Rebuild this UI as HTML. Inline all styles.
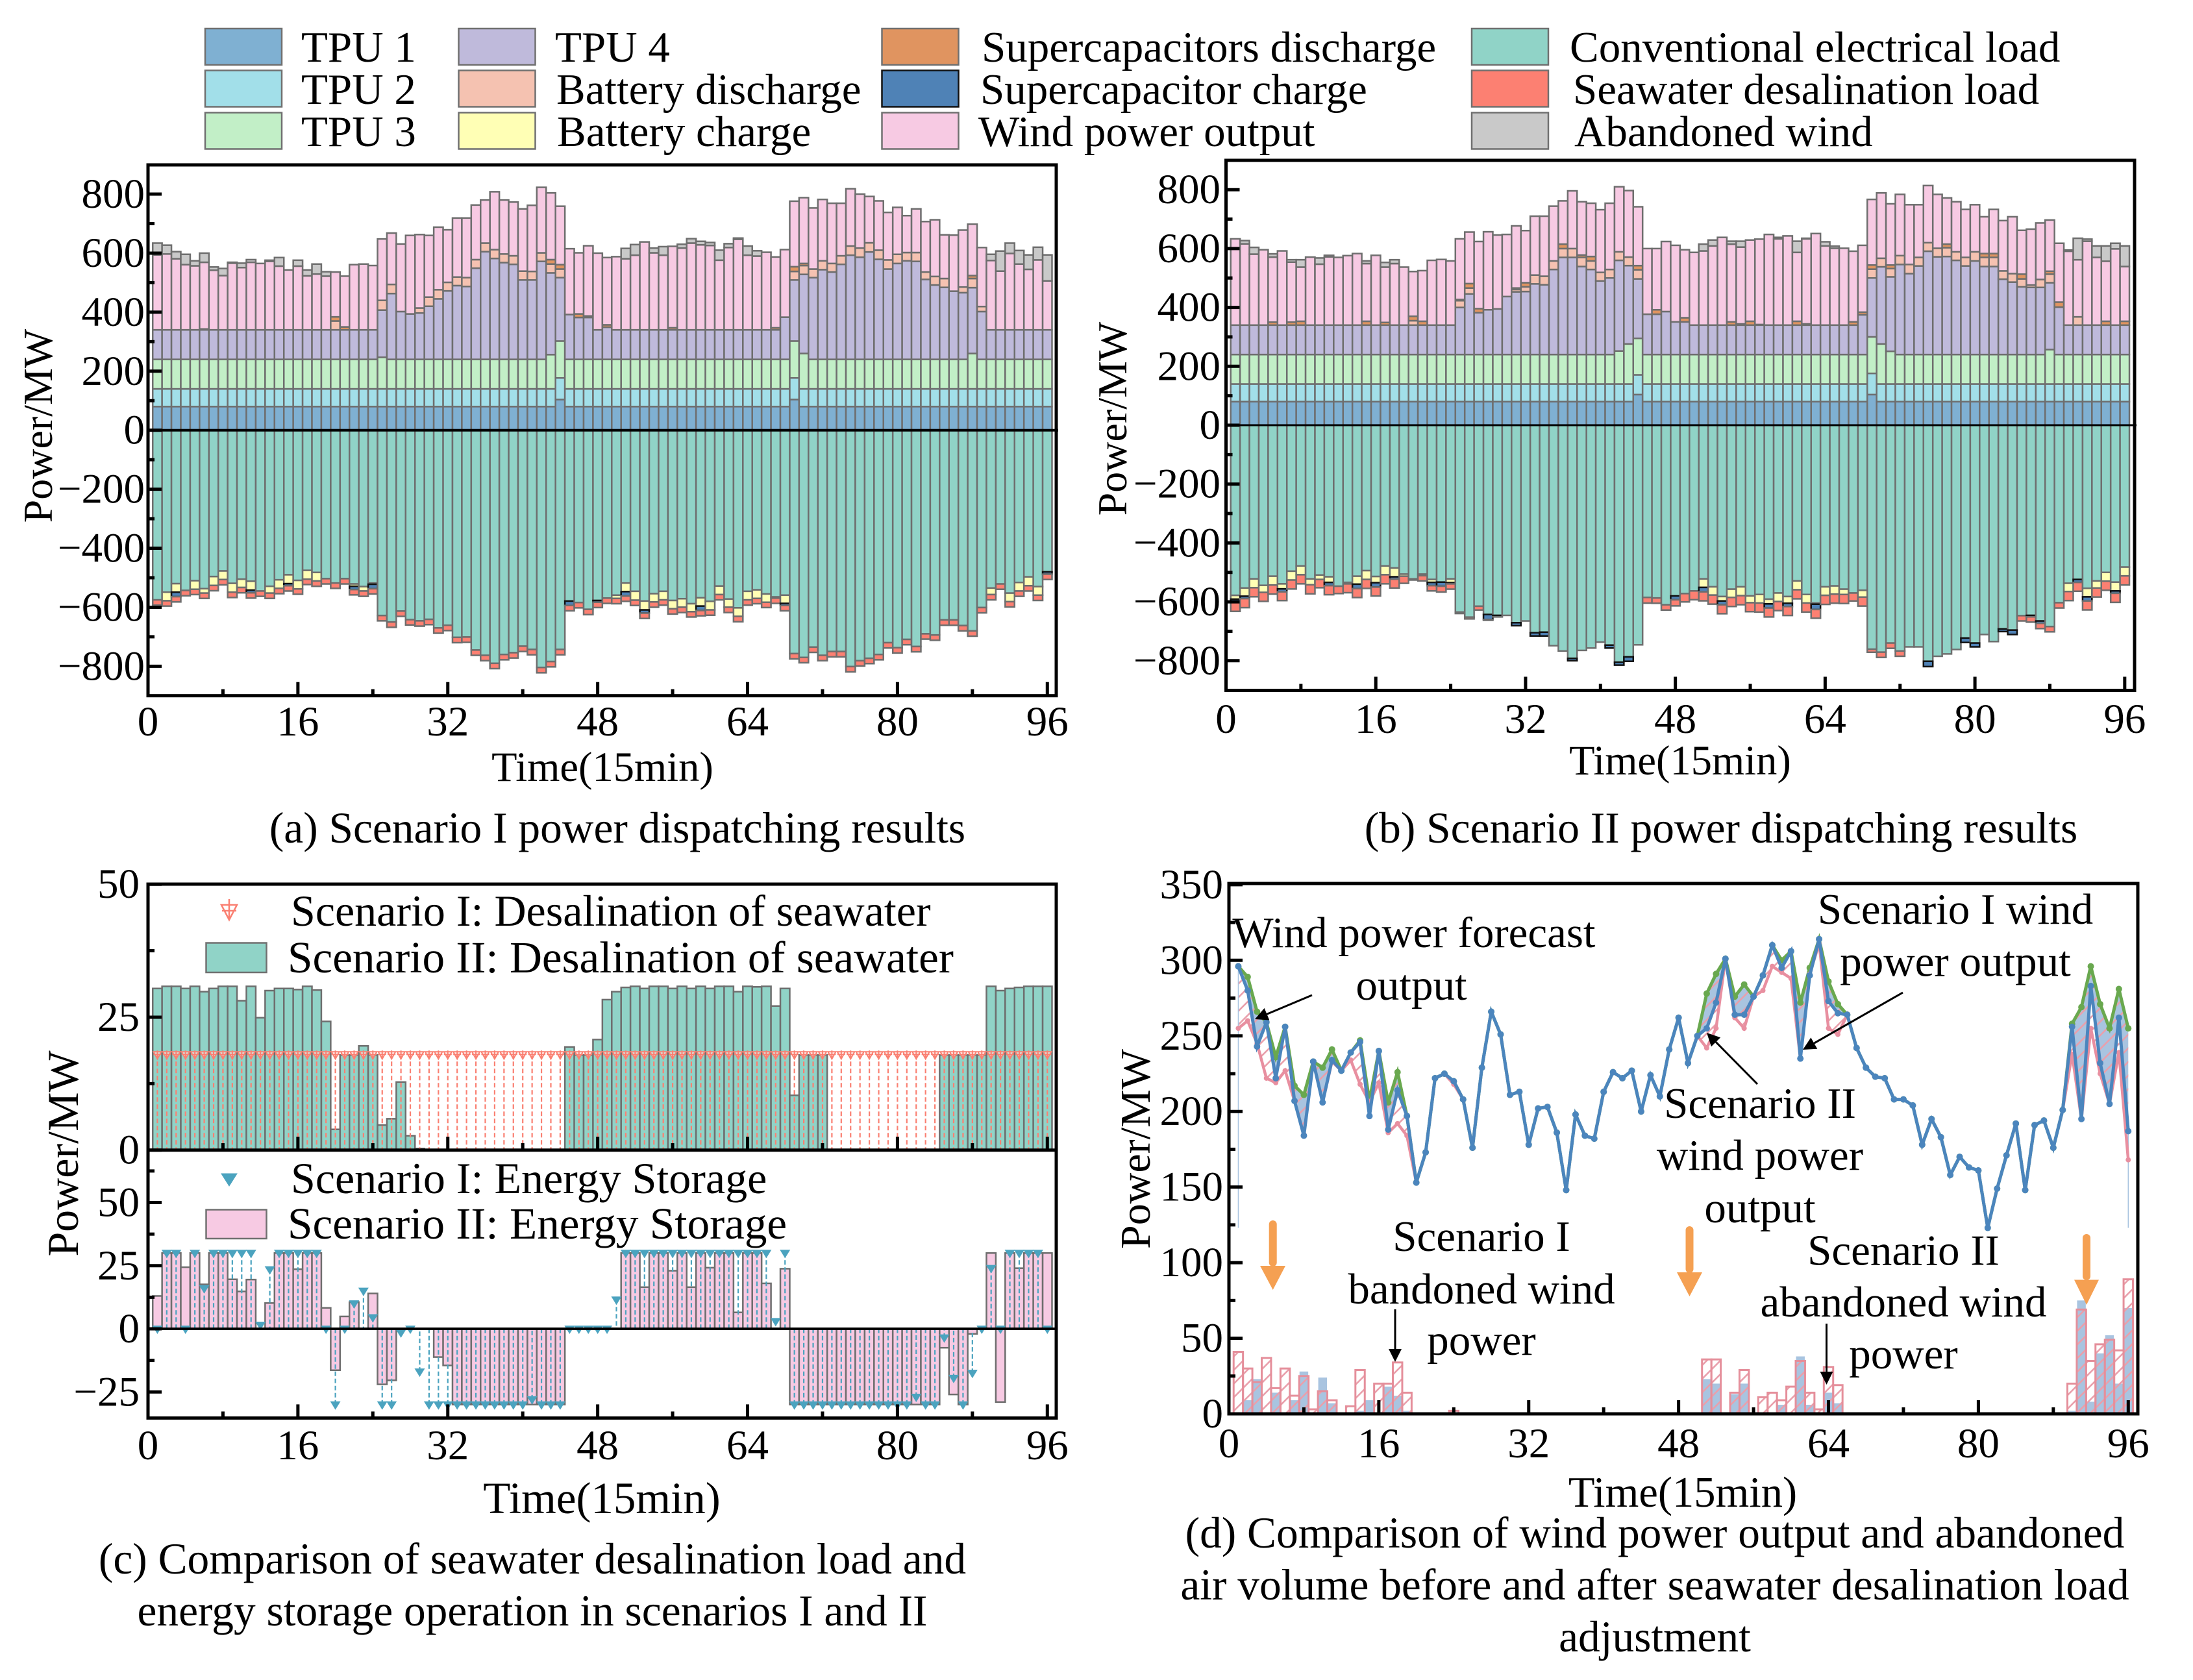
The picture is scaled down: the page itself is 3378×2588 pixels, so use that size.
<!DOCTYPE html>
<html lang="en">
<head>
<meta charset="utf-8">
<title>Scenario dispatching results</title>
<style>
html,body{margin:0;padding:0;background:#fff;}
svg{display:block;}
text{font-family:"Liberation Serif",serif;fill:#000;}
.lg{font-size:67px;}
.ann{font-size:67px;text-anchor:middle;}
.cap{font-size:67.4px;text-anchor:middle;}
.sw{stroke:#707070;stroke-width:2.5;}
</style>
</head>
<body>
<svg id="fig" xmlns="http://www.w3.org/2000/svg" width="3378" height="2588" viewBox="0 0 3378 2588">
<defs>
<pattern id="hatch" patternUnits="userSpaceOnUse" width="21" height="21">
<path d="M-3,3 L3,-3 M0,21 L21,0 M18,24 L24,18" stroke="#e9a0ac" stroke-width="2.6" fill="none"/>
</pattern>
</defs>
<rect width="3378" height="2588" fill="#fff"/>

<g id="legend">
<rect class="sw" x="316" y="44" width="118" height="56" fill="#7fb0d2"/>
<text class="lg" x="464" y="95">TPU 1</text>
<rect class="sw" x="316" y="108.500" width="118" height="56" fill="#a2dfe9"/>
<text class="lg" x="464" y="160">TPU 2</text>
<rect class="sw" x="316" y="173.500" width="118" height="56" fill="#c2efc7"/>
<text class="lg" x="464" y="225">TPU 3</text>
<rect class="sw" x="706.500" y="44" width="118" height="56" fill="#bfbadb"/>
<text class="lg" x="855" y="95">TPU 4</text>
<rect class="sw" x="706.500" y="108.500" width="118" height="56" fill="#f5c2b1"/>
<text class="lg" x="857" y="160">Battery discharge</text>
<rect class="sw" x="706.500" y="173.500" width="118" height="56" fill="#ffffb5"/>
<text class="lg" x="858" y="225">Battery charge</text>
<rect class="sw" x="1358.500" y="44" width="118" height="56" fill="#e09460"/>
<text class="lg" x="1512" y="95">Supercapacitors discharge</text>
<rect x="1358.500" y="108.500" width="118" height="56" fill="#4f82b6" stroke="#111" stroke-width="2.5"/>
<text class="lg" x="1510" y="160">Supercapacitor charge</text>
<rect class="sw" x="1358.500" y="173.500" width="118" height="56" fill="#f7cae3"/>
<text class="lg" x="1507" y="225">Wind power output</text>
<rect class="sw" x="2267" y="44" width="118" height="56" fill="#90d3c7"/>
<text class="lg" x="2418" y="95">Conventional electrical load</text>
<rect class="sw" x="2267" y="108.500" width="118" height="56" fill="#fc8072"/>
<text class="lg" x="2423" y="160">Seawater desalination load</text>
<rect class="sw" x="2267" y="173.500" width="118" height="56" fill="#c9c9c9"/>
<text class="lg" x="2425" y="225">Abandoned wind</text>
</g>

<g id="layerA"></g>
<g id="layerB"></g>
<g id="layerC"></g>
<g id="layerD"></g>

<g>
<text x="448" y="1426" font-size="68">Scenario I: Desalination of seawater</text>
<rect class="sw" x="317.500" y="1452.500" width="93" height="45.500" fill="#90d3c7"/>
<text x="443" y="1498" font-size="69.200">Scenario II: Desalination of seawater</text>
<text x="448" y="1838" font-size="68">Scenario I: Energy Storage</text>
<rect class="sw" x="317.500" y="1863.500" width="93" height="44.500" fill="#f7cae3"/>
<text x="443" y="1908" font-size="69.200">Scenario II: Energy Storage</text>
<path d="M341,1394 L365,1394 L353,1417 Z M353,1385 L353,1417 M342,1403 L364,1403" fill="none" stroke="#fa8072" stroke-width="2.5"/>
<path d="M341,1808 L365,1808 L353,1827 Z" fill="#4ba3bf" stroke="#4ba3bf" stroke-width="1"/>
</g>

<g>
<text class="ann" x="2178" y="1459">Wind power forecast</text>
<text class="ann" x="2174" y="1540">output</text>
<text class="ann" x="3012" y="1423">Scenario I wind</text>
<text class="ann" x="3012" y="1503.500">power output</text>
<text class="ann" x="2711" y="1722">Scenario II</text>
<text class="ann" x="2711" y="1802">wind power</text>
<text class="ann" x="2711" y="1883">output</text>
<text class="ann" x="2282" y="1927">Scenario I</text>
<text class="ann" x="2282" y="2008">bandoned wind</text>
<text class="ann" x="2282" y="2087">power</text>
<text class="ann" x="2932" y="1948.500">Scenario II</text>
<text class="ann" x="2932" y="2028">abandoned wind</text>
<text class="ann" x="2932" y="2108">power</text>
<path d="M1960.700,1886 L1960.700,1945" stroke="#f5a052" stroke-width="12" stroke-linecap="round" fill="none"/>
<polygon points="1941,1950 1980,1950 1960.700,1987" fill="#f5a052"/>
<path d="M2602.500,1895 L2602.500,1955" stroke="#f5a052" stroke-width="12" stroke-linecap="round" fill="none"/>
<polygon points="2583,1960 2622,1960 2602.500,1997" fill="#f5a052"/>
<path d="M3214,1907 L3214,1966" stroke="#f5a052" stroke-width="12" stroke-linecap="round" fill="none"/>
<polygon points="3195,1971.500 3233,1971.500 3214,2010" fill="#f5a052"/>
</g>

<g>
<text x="80" y="656" font-size="64" text-anchor="middle" transform="rotate(-90 80 656)">Power/MW</text>
<text x="1735" y="645" font-size="64" text-anchor="middle" transform="rotate(-90 1735 645)">Power/MW</text>
<text x="120" y="1777" font-size="68" text-anchor="middle" transform="rotate(-90 120 1777)">Power/MW</text>
<text x="1771" y="1770" font-size="66" text-anchor="middle" transform="rotate(-90 1771 1770)">Power/MW</text>
<text x="928" y="1203" font-size="64.500" text-anchor="middle">Time(15min)</text>
<text x="2588" y="1193" font-size="64.500" text-anchor="middle">Time(15min)</text>
<text x="927" y="2331" font-size="69" text-anchor="middle">Time(15min)</text>
<text x="2592" y="2321" font-size="66.500" text-anchor="middle">Time(15min)</text>
<text class="cap" x="951" y="1298">(a) Scenario I power dispatching results</text>
<text class="cap" x="2651" y="1298">(b) Scenario II power dispatching results</text>
<text class="cap" x="820" y="2424">(c) Comparison of seawater desalination load and</text>
<text class="cap" x="820" y="2504">energy storage operation in scenarios I and II</text>
<text class="cap" x="2549" y="2384">(d) Comparison of wind power output and abandoned</text>
<text class="cap" x="2549" y="2464">air volume before and after seawater desalination load</text>
<text class="cap" x="2549" y="2544">adjustment</text>
</g>
</svg>

<script>
// ---------- shared tick data ----------
const xMajorTicks = [0,16,32,48,64,80,96];
const xMinorTicks = [8,24,40,56,72,88];
const powerMajorTicks = [800,600,400,200,0,-200,-400,-600,-800];
const powerMinorTicks = [700,500,300,100,-100,-300,-500,-700];
const desalMajorTicks = [50,25,0];
const desalMinorTicks = [37.5,12.5];
const storageMajorTicks = [50,25,0,-25];
const storageMinorTicks = [62.5,37.5,12.5,-12.5];
const windMajorTicks = [350,300,250,200,150,100,50,0];
const windMinorTicks = [325,275,225,175,125,75,25];

// ---------- panel (a) Scenario I, MW ----------
const aTpu1 = [80,80,80,80,80,80,80,80,80,80,80,80,80,80,80,80,80,80,80,80,80,80,80,80,
80,80,80,80,80,80,80,80,80,80,80,80,80,80,80,80,80,80,80,104,
80,80,80,80,80,80,80,80,80,80,80,80,80,80,80,80,80,80,80,80,80,80,80,80,
104,80,80,80,80,80,80,80,80,80,80,80,80,80,80,80,80,80,80,80,80,80,80,80,80,80,80,80];
const aTpu2 = [60,60,60,60,60,60,60,60,60,60,60,60,60,60,60,60,60,60,60,60,60,60,60,60,
60,60,60,60,60,60,60,60,60,60,60,60,60,60,60,60,60,60,60,73,
60,60,60,60,60,60,60,60,60,60,60,60,60,60,60,60,60,60,60,60,60,60,60,60,
73,60,60,60,60,60,60,60,60,60,60,60,60,60,60,60,60,60,60,60,60,60,60,60,60,60,60,60];
const aTpu3 = [100,100,100,100,100,100,100,100,100,100,100,100,100,100,100,100,100,100,100,100,100,100,100,100,
107,100,100,100,100,100,100,100,100,100,100,100,100,100,100,100,100,100,116,125,
100,100,100,100,100,100,100,100,100,100,100,100,100,100,100,100,100,100,100,100,100,100,100,100,
125,120,100,100,100,100,100,100,100,100,100,100,100,100,100,100,100,100,100,120,100,100,100,100,100,100,100,100];
const aTpu4 = [100,100,100,100,100,100,100,100,100,100,100,100,100,100,100,100,100,100,100,100,100,100,100,100,
160,223,162,154,157,180,205,232,250,247,309,365,342,328,322,269,269,332,277,215,
152,142,142,100,109,100,100,100,100,100,100,100,100,100,100,100,100,100,100,100,100,100,100,143,
207,268,277,304,296,322,353,346,364,339,306,325,334,332,271,252,244,231,226,223,162,100,100,100,100,100,100,100];
const aBattDis = [0,0,0,0,0,0,0,0,0,0,0,0,0,0,0,0,0,0,0,30,0,0,0,0,
33,31,0,0,17,31,31,29,29,30,29,29,30,29,29,30,29,29,30,29,
0,0,0,0,0,0,0,0,0,0,0,0,0,0,0,0,0,0,0,0,0,0,0,0,
29,30,29,30,29,29,31,31,31,31,31,31,28,30,25,29,30,0,19,31,17,0,0,0,0,0,0,0];
const aScDis = [0,0,0,0,0,3,0,0,0,0,0,0,0,0,0,0,0,0,0,14,10,0,0,0,
0,0,0,0,0,0,0,0,0,0,0,0,0,0,0,0,0,0,15,15,
0,12,5,0,8,0,0,0,0,0,0,7,0,0,0,0,0,0,0,0,0,0,7,0,
16,7,0,0,0,0,0,0,0,0,0,0,0,0,0,0,0,0,0,10,0,0,0,0,0,0,0,0];
const aWind = [254,257,241,221,217,226,202,184,226,211,229,225,232,216,203,216,183,189,182,152,172,221,223,218,
208,174,229,266,249,209,212,178,200,202,185,146,196,183,182,211,224,222,226,198,
223,207,238,260,228,248,241,253,298,261,253,276,277,294,288,286,236,279,307,253,250,263,240,229,
222,223,207,208,204,178,194,183,157,167,161,159,125,148,171,192,148,190,193,174,200,235,199,259,223,205,237,166];
const aAband = [40,30,24,35,17,31,11,24,3,15,9,0,4,29,0,20,20,34,15,0,0,0,0,0,
0,0,0,0,0,0,0,0,0,0,0,0,0,0,0,0,0,0,0,0,
0,0,0,0,0,0,35,36,0,16,29,0,13,15,12,10,34,13,4,31,18,0,0,0,
0,0,0,0,0,0,0,0,0,0,0,0,0,0,0,0,0,0,0,0,0,21,68,35,46,49,43,88];
const aLoad = [575,549,520,543,510,537,496,477,519,505,512,545,529,507,490,509,475,482,503,518,503,521,530,518,
628,650,613,642,646,641,670,661,702,701,745,763,790,760,754,732,743,804,784,743,
579,584,607,577,569,559,518,546,579,554,546,577,571,588,568,580,528,572,602,546,541,555,565,559,
757,770,735,763,750,750,801,781,773,760,720,737,709,733,690,694,643,643,662,680,601,535,521,552,516,497,530,480];
const aBattCh = [0,29,29,0,29,15,30,29,30,28,30,0,23,29,30,29,30,29,0,0,0,8,15,4,
0,0,0,0,0,0,0,0,0,0,0,0,0,0,0,0,0,0,0,0,
0,0,0,0,0,11,29,30,30,28,29,28,29,27,28,29,29,28,29,29,29,28,4,28,
0,0,0,0,0,0,0,0,0,0,0,0,0,0,0,0,0,0,0,0,0,22,0,29,29,30,29,0];
const aScCh = [0,0,15,0,0,0,0,0,0,0,9,0,0,0,7,0,0,0,0,0,0,11,0,15,
0,0,0,0,0,0,0,0,0,0,0,0,0,0,0,0,0,0,0,0,
15,0,0,6,0,0,15,0,11,0,0,0,0,0,15,0,0,0,0,0,0,0,0,7,
0,0,0,0,0,0,0,0,0,0,0,0,0,0,0,0,0,0,0,0,0,0,0,0,0,0,0,8];

// ---------- panel (b) Scenario II, MW ----------
const bTpu1 = [80,80,80,80,80,80,80,80,80,80,80,80,80,80,80,80,80,80,80,80,80,80,80,80,
80,80,80,80,80,80,80,80,80,80,80,80,80,80,80,80,80,80,80,104,
80,80,80,80,80,80,80,80,80,80,80,80,80,80,80,80,80,80,80,80,80,80,80,80,
104,80,80,80,80,80,80,80,80,80,80,80,80,80,80,80,80,80,80,80,80,80,80,80,80,80,80,80];
const bTpu2 = [60,60,60,60,60,60,60,60,60,60,60,60,60,60,60,60,60,60,60,60,60,60,60,60,
60,60,60,60,60,60,60,60,60,60,60,60,60,60,60,60,60,60,60,67,
60,60,60,60,60,60,60,60,60,60,60,60,60,60,60,60,60,60,60,60,60,60,60,60,
72,60,60,60,60,60,60,60,60,60,60,60,60,60,60,60,60,60,60,60,60,60,60,60,60,60,60,60];
const bTpu3 = [100,100,100,100,100,100,100,100,100,100,100,100,100,100,100,100,100,100,100,100,100,100,100,100,
100,100,100,100,100,100,100,100,100,100,100,100,100,100,100,100,100,112,136,124,
100,100,100,100,100,100,100,100,100,100,100,100,100,100,100,100,100,100,100,100,100,100,100,100,
124,136,111,100,100,100,100,100,100,100,100,100,100,100,100,100,100,100,100,117,100,100,100,100,100,100,100,100];
const bTpu4 = [100,100,100,100,100,100,100,100,100,100,100,100,100,100,100,100,100,100,100,100,100,100,100,100,
160,206,142,152,155,197,213,214,240,237,289,330,330,299,289,250,260,308,266,202,
137,137,146,111,111,100,100,100,100,100,100,100,100,100,100,100,100,100,100,100,100,100,100,135,
200,262,253,306,275,301,351,332,333,320,301,318,299,299,256,246,230,228,228,227,161,100,100,100,100,100,100,100];
const bBattDis = [0,0,0,0,0,0,0,0,0,0,0,0,0,0,0,0,0,0,0,15,0,0,0,0,
23,20,0,0,0,0,8,16,30,29,29,30,30,31,29,29,29,29,29,31,
0,0,0,0,0,0,0,0,0,0,0,0,0,0,0,0,0,0,0,0,0,0,0,0,
30,29,28,30,31,29,29,29,30,29,29,31,31,31,28,29,27,8,27,29,0,0,28,0,0,0,0,0];
const bScDis = [0,0,0,0,10,0,10,13,0,0,0,0,0,0,13,0,9,0,0,15,13,0,0,0,
4,15,14,0,0,0,5,14,0,0,0,15,0,8,15,0,0,0,0,14,
0,15,0,0,14,0,0,0,0,11,4,13,2,0,0,0,13,4,0,0,0,0,11,9,
14,0,12,0,0,0,0,0,12,0,0,0,13,13,0,0,16,0,0,10,17,0,0,0,0,13,0,13];
const bWind = [293,276,241,256,221,252,204,184,231,207,232,230,236,243,196,237,188,209,197,152,172,220,223,218,
206,175,228,265,251,211,211,177,200,204,186,147,196,181,181,213,225,221,226,200,
223,208,238,260,231,247,252,269,298,264,261,276,290,308,293,303,234,289,311,269,261,261,240,227,
223,222,208,208,203,179,194,183,157,170,163,160,125,150,171,193,149,190,192,174,200,251,194,285,230,204,259,186];
const bAband = [0,11,23,0,11,0,8,25,0,21,5,0,0,0,9,0,16,13,0,0,0,0,0,0,
0,0,0,0,0,0,0,0,0,0,0,0,0,0,0,0,0,0,0,0,
0,0,0,0,0,0,23,20,0,10,20,0,0,0,5,0,38,2,0,14,7,0,0,0,
0,0,0,0,0,0,0,0,0,0,0,0,0,0,0,0,0,0,0,0,0,4,73,7,39,52,19,70];
const bLoad = [578,553,522,544,513,539,496,478,522,509,515,547,534,513,494,514,478,485,506,522,506,524,533,522,
635,652,615,643,646,646,671,665,705,703,749,767,792,765,757,737,747,805,787,746,
585,587,610,580,572,563,522,549,582,557,549,580,575,591,570,582,529,575,604,549,546,557,570,561,
761,771,740,767,753,753,802,785,777,762,723,740,711,735,692,696,647,646,665,684,603,537,524,554,529,500,533,482];
const bBattCh = [13,28,30,24,30,17,30,30,20,15,19,0,5,27,30,21,30,30,7,0,5,10,0,13,
0,0,0,0,0,0,0,0,0,0,0,0,0,0,0,0,0,0,0,0,
0,0,0,0,0,0,29,28,15,28,30,23,29,16,29,23,30,29,4,29,28,18,0,23,
0,0,0,0,0,0,0,0,0,0,0,0,0,0,0,0,0,0,0,0,0,28,0,29,24,30,30,30];
const bScCh = [11,8,0,0,0,10,0,0,0,0,11,0,0,15,0,15,0,8,0,0,0,11,14,4,
0,0,0,17,5,0,10,0,11,13,0,0,8,0,0,0,10,10,15,0,
0,0,0,13,0,0,15,0,13,0,0,0,0,14,0,11,0,0,18,0,0,0,0,0,
0,0,0,0,0,0,18,0,0,0,15,13,0,0,9,15,0,5,8,0,0,0,10,14,0,0,8,0];

// ---------- panel (c), MW ----------
const desalScenario1 = [18,18,18,18,18,18,18,18,18,18,18,18,18,18,18,18,18,18,18,18,18,18,18,18,
18,18,18,18,18,18,18,18,18,18,18,18,18,18,18,18,18,18,18,18,
18,18,18,18,18,18,18,18,18,18,18,18,18,18,18,18,18,18,18,18,18,18,18,18,
18,18,18,18,18,18,18,18,18,18,18,18,18,18,18,18,18,18,18,18,18,18,18,18,18,18,18,18];
const desalScenario2 = [30.4,30.8,30.8,30.4,30.8,29.8,30.4,30.8,30.8,28.1,30.8,24.9,30,30.4,30.4,30.2,30.8,30.1,24.2,3.9,17.9,17.9,19.6,17.9,
4.7,5.9,12.8,2.7,0.3,0,0,0,0,0,0,0,0,0,0,0,0,0,0,0,
19.4,17.9,17.9,20.8,28.3,29.8,30.6,30.8,30.4,30.8,30.8,30.4,30.8,30.4,30.8,30.4,30.8,30.8,29.8,30.8,30.7,30.8,27.1,30.4,
10.3,17.9,17.9,17.9,0,0,0,0,0,0,0,0,0,0,0,0,17.9,17.9,17.9,17.9,17.9,30.8,30,30.4,30.6,30.8,30.8,30.8];
const storageScenario1 = [0,30,30,0,30,16,30,30,30,30,30,1.5,23.5,30,30,30,30,30,0,-30,0,10,15,4.5,
-30,-30,-1.5,0,-17,-30,-30,-30,-30,-30,-30,-30,-30,-30,-30,-30,-28,-30,-30,-30,
0,0,0,0,0,11.5,30,30,30,30,30,30,30,30,30,30,30,30,30,30,30,30,3,30,
-30,-30,-30,-30,-30,-30,-30,-30,-30,-30,-30,-30,-30,-27,-30,-30,-3.5,-19.5,-30,-17.5,0,24,0,30,30,30,30,0];
const storageScenario2 = [13,30,30,24.4,30,17.6,30,30,19.6,14.8,19.5,0,10.2,30,30,23.6,30,30,8.3,-16.4,4.9,10.6,0,14,
-22,-20.4,0,0,0,0,-11.2,-14.5,-30,-30,-30,-30,-30,-30,-30,-30,-30,-30,-30,-30,
0,0,0,0,0,0,30,30,16.5,30,30,23,30,16.5,30,24.2,30,30,6.5,30,30,18,0,23.8,
-30,-30,-30,-30,-30,-30,-30,-30,-30,-30,-30,-30,-30,-30,-30,-30,-7.5,-26,-30,-2,0,30,-29,30,24,30,30,30];

// ---------- panel (d), MW ----------
const windForecast = [296,289,266,259,236,256,217,211,233,229,241,227,239,247,207,240,206,226,197,
153,173,222,225,220,208,176,229,266,251,211,213,178,202,203,186,148,198,184,182,213,226,222,227,200,224,210,241,262,232,
250,278,291,301,276,284,276,290,310,300,306,272,295,314,286,271,264,
242,229,223,222,208,208,204,178,195,183,158,170,163,161,123,149,171,192,148,191,194,176,201,
258,269,296,271,255,281,255];
const windScenario1 = [255,260,245,222,219,227,207,185,233,206,233,227,234,218,206,219,186,192,184,
153,173,222,225,218,208,176,229,266,251,211,213,178,202,203,186,148,198,184,182,213,226,222,227,200,224,210,241,262,232,
250,242,255,301,262,255,276,280,296,292,288,235,291,311,255,251,264,
242,229,223,222,208,208,204,178,195,183,158,170,163,161,123,149,171,192,148,191,194,176,201,
238,195,255,225,205,239,168];
const windScenario2 = [296,280,243,259,222,256,207,184,233,206,234,227,239,246,197,240,188,214,197,
153,173,222,225,220,208,176,229,266,251,211,213,178,202,203,186,148,198,184,182,213,226,222,227,200,224,210,241,262,232,
250,255,272,301,264,264,276,290,310,295,306,235,290,314,273,265,264,
242,229,223,222,208,208,204,178,195,183,158,170,163,161,123,149,171,192,148,191,194,176,201,
256,195,283,232,205,262,187];
const abandonedScenario1 = [41,30,21,37,17,30,12,25,3,15,9,0,5,29,0,20,20,34,14,0,0,0,0,2,
0,0,0,0,0,0,0,0,0,0,0,0,0,0,0,0,0,0,0,0,0,0,0,0,0,0,
36,36,0,14,29,0,11,14,9,18,35,14,3,31,19,0,
0,0,0,0,0,0,0,0,0,0,0,0,0,0,0,0,0,0,0,0,0,0,0,
20,69,35,46,49,42,89];
const abandonedScenario2 = [0,9,23,0,14,0,9,28,0,24,7,0,0,2,9,0,18,12,2,0,0,0,0,0,
0,0,0,0,0,0,0,0,0,0,0,0,0,0,0,0,0,0,0,0,0,0,0,0,0,0,
23,20,0,13,20,0,0,0,6,0,38,6,0,14,7,0,
1,0,1,0,0,0,0,0,0,0,0,0,0,0,0,0,0,0,0,0,0,0,0,
2,75,8,40,52,20,70];

const SVGNS = 'http://www.w3.org/2000/svg';
function make(parent, tag, attrs, name) {
  const el = document.createElementNS(SVGNS, tag);
  for (const k in attrs) el.setAttribute(k, attrs[k]);
  
  
  parent.appendChild(el);
  return el;
}
function fmtTick(v) { return v < 0 ? '\u2212' + Math.abs(v) : String(v); }

function drawFrame(g, b, xf) {
  make(g, 'rect', {x:b.left, y:b.top, width:b.right-b.left, height:b.bottom-b.top, fill:'none', stroke:'#000', 'stroke-width':5}, 'plot-frame');
  xMajorTicks.forEach(v => {
    make(g, 'line', {x1:xf(v), x2:xf(v), y1:b.bottom, y2:b.bottom-21, stroke:'#000', 'stroke-width':5}, 'x-major-tick');
    const t = make(g, 'text', {x:xf(v), y:b.xLabelY, 'font-size':65, 'text-anchor':'middle'}, 'x-tick-label');
    t.textContent = v;
  });
  xMinorTicks.forEach(v => {
    make(g, 'line', {x1:xf(v), x2:xf(v), y1:b.bottom, y2:b.bottom-10, stroke:'#000', 'stroke-width':5}, 'x-minor-tick');
  });
}
function drawYTicks(g, left, yf, major, minor, labelX, skipLabel) {
  major.forEach(v => {
    make(g, 'line', {x1:left, x2:left+21, y1:yf(v), y2:yf(v), stroke:'#000', 'stroke-width':5}, 'y-major-tick');
    const t = make(g, 'text', {x:labelX, y:yf(v)+21, 'font-size':65, 'text-anchor':'end'}, 'y-tick-label');
    t.textContent = fmtTick(v);
  });
  minor.forEach(v => {
    make(g, 'line', {x1:left, x2:left+10, y1:yf(v), y2:yf(v), stroke:'#000', 'stroke-width':5}, 'y-minor-tick');
  });
}

const FILL = {tpu1:'#7fb0d2',tpu2:'#a2dfe9',tpu3:'#c2efc7',tpu4:'#bfbadb',battDis:'#f5c2b1',scDis:'#e09460',wind:'#f7cae3',aband:'#c9c9c9',load:'#90d3c7',battCh:'#ffffb5',scCh:'#4f82b6',sea:'#fc8072'};

function drawStack(g, xf, yf, up, down) {
  for (let i = 0; i < 96; i++) {
    const c = i + 1;
    const x = xf(c - 0.5), w = xf(c + 0.5) - x;
    let acc = 0;
    up.forEach(s => {
      const v = s.values[i];
      if (v > 0) {
        const rect = make(g, 'rect', {x:x, y:yf(acc+v), width:w, height:yf(acc)-yf(acc+v), fill:s.fill, stroke:'#6e6e6e', 'stroke-width':2.5}, s.name);
      }
      acc += v;
    });
    acc = 0;
    down.forEach(s => {
      const v = s.values[i];
      if (v > 0) {
        const rect = make(g, 'rect', {x:x, y:yf(-acc), width:w, height:yf(-acc-v)-yf(-acc), fill:s.fill, stroke:s.stroke||'#6e6e6e', 'stroke-width':2.5}, s.name);
      }
      acc += v;
    });
  }
}

// ---- Panel A ----
(function(){
  const g = document.getElementById('layerA');
  const xf = v => 228 + 14.43 * v;
  const yf = v => 662.7 - 0.4546 * v;
  drawStack(g, xf, yf,
    [{values:aTpu1,fill:FILL.tpu1,name:'bar-tpu1'},{values:aTpu2,fill:FILL.tpu2,name:'bar-tpu2'},{values:aTpu3,fill:FILL.tpu3,name:'bar-tpu3'},{values:aTpu4,fill:FILL.tpu4,name:'bar-tpu4'},{values:aBattDis,fill:FILL.battDis,name:'bar-battery-discharge'},{values:aScDis,fill:FILL.scDis,name:'bar-supercap-discharge'},{values:aWind,fill:FILL.wind,name:'bar-wind'},{values:aAband,fill:FILL.aband,name:'bar-abandoned'}],
    [{values:aLoad,fill:FILL.load,name:'bar-load'},{values:aBattCh,fill:FILL.battCh,name:'bar-battery-charge'},{values:aScCh,fill:FILL.scCh,stroke:'#111',name:'bar-supercap-charge'},{values:desalScenario1,fill:FILL.sea,name:'bar-seawater'}]);
  make(g, 'line', {x1:228, x2:1630, y1:yf(0), y2:yf(0), stroke:'#000', 'stroke-width':4}, 'zero-line');
  drawFrame(g, {left:228,right:1627,top:254,bottom:1071.7,xLabelY:1133}, xf);
  drawYTicks(g, 228, yf, powerMajorTicks, powerMinorTicks, 223);
})();

// ---- Panel B ----
(function(){
  const g = document.getElementById('layerB');
  const xf = v => 1888.5 + 14.42 * v;
  const yf = v => 655 - 0.4535 * v;
  drawStack(g, xf, yf,
    [{values:bTpu1,fill:FILL.tpu1,name:'bar-tpu1'},{values:bTpu2,fill:FILL.tpu2,name:'bar-tpu2'},{values:bTpu3,fill:FILL.tpu3,name:'bar-tpu3'},{values:bTpu4,fill:FILL.tpu4,name:'bar-tpu4'},{values:bBattDis,fill:FILL.battDis,name:'bar-battery-discharge'},{values:bScDis,fill:FILL.scDis,name:'bar-supercap-discharge'},{values:bWind,fill:FILL.wind,name:'bar-wind'},{values:bAband,fill:FILL.aband,name:'bar-abandoned'}],
    [{values:bLoad,fill:FILL.load,name:'bar-load'},{values:bBattCh,fill:FILL.battCh,name:'bar-battery-charge'},{values:bScCh,fill:FILL.scCh,stroke:'#111',name:'bar-supercap-charge'},{values:desalScenario2,fill:FILL.sea,name:'bar-seawater'}]);
  make(g, 'line', {x1:1888.5, x2:3291, y1:yf(0), y2:yf(0), stroke:'#000', 'stroke-width':3}, 'zero-line');
  drawFrame(g, {left:1888.5,right:3288,top:247,bottom:1063.5,xLabelY:1129}, xf);
  drawYTicks(g, 1888.5, yf, powerMajorTicks, powerMinorTicks, 1880);
})();

// ---- Panel C ----
(function(){
  const g = document.getElementById('layerC');
  const xf = v => 228 + 14.43 * v;
  const yU = v => 1771.7 - 8.19 * v;
  const yL = v => 2047 - 3.89 * v;
  for (let i = 0; i < 96; i++) {
    const c = i + 1, x = xf(c-0.5), w = xf(c+0.5)-x;
    const v = desalScenario2[i];
    if (v > 0) {
      make(g, 'rect', {x:x, y:yU(v), width:w, height:yU(0)-yU(v), fill:'#90d3c7', stroke:'#6e6e6e', 'stroke-width':2.5}, 'bar-desalination-scenario2');
    }
    const s = storageScenario2[i];
    if (s !== 0) {
      const top = Math.min(yL(s), yL(0));
      make(g, 'rect', {x:x, y:top, width:w, height:Math.abs(yL(s)-yL(0)), fill:'#f7cae3', stroke:'#6e6e6e', 'stroke-width':2.5}, 'bar-storage-scenario2');
    }
  }
  for (let i = 0; i < 96; i++) {
    const c = i + 1, cx = xf(c);
    const d = desalScenario1[i];
    make(g, 'line', {x1:cx, x2:cx, y1:yU(d), y2:yU(0), stroke:'#fa8072', 'stroke-width':2.2, 'stroke-dasharray':'7 4'}, 'droplines-desalination-scenario1');
    const yy = yU(d);
    make(g, 'path', {d:`M${cx-6},${yy-4} L${cx+6},${yy-4} L${cx},${yy+7} Z M${cx},${yy-6} L${cx},${yy+7} M${cx-6},${yy} L${cx+6},${yy}`, fill:'#fff', 'fill-opacity':0.6, stroke:'#fa8072', 'stroke-width':2}, 'marker-desalination-scenario1');
    const s = storageScenario1[i];
    const ys = yL(s);
    if (s !== 0) {
      make(g, 'line', {x1:cx, x2:cx, y1:ys, y2:yL(0), stroke:'#4ba3bf', 'stroke-width':2.2, 'stroke-dasharray':'7 4'}, 'droplines-storage-scenario1');
    }
    make(g, 'polygon', {points:`${cx-8},${ys-5} ${cx+8},${ys-5} ${cx},${ys+8}`, fill:'#4ba3bf'}, 'marker-storage-scenario1');
  }
  make(g, 'line', {x1:228, x2:1627, y1:1771.7, y2:1771.7, stroke:'#000', 'stroke-width':5}, 'subplot-divider');
  make(g, 'line', {x1:228, x2:1627, y1:yL(0), y2:yL(0), stroke:'#000', 'stroke-width':4}, 'zero-line');
  drawFrame(g, {left:228,right:1627,top:1362,bottom:2184.4,xLabelY:2248}, xf);
  xMajorTicks.forEach(v => {
    make(g, 'line', {x1:xf(v), x2:xf(v), y1:1771.7, y2:1751, stroke:'#000', 'stroke-width':5}, 'x-major-tick-upper');
  });
  xMinorTicks.forEach(v => {
    make(g, 'line', {x1:xf(v), x2:xf(v), y1:1771.7, y2:1761, stroke:'#000', 'stroke-width':5}, 'x-minor-tick-upper');
  });
  drawYTicks(g, 228, yU, desalMajorTicks, desalMinorTicks, 215);
  drawYTicks(g, 228, yL, storageMajorTicks, storageMinorTicks, 215);
})();

// ---- Panel D ----
(function(){
  const g = document.getElementById('layerD');
  const xf = v => 1893 + 14.43 * v;
  const yf = v => 2178 - 2.329 * v;
  const indices = windForecast.map((_, i) => i);
  const pts = arr => arr.map((v, i) => xf(i+1) + ',' + yf(v));
  make(g, 'polygon', {points:pts(windForecast).concat(pts(windScenario2).reverse()).join(' '), fill:'#a9c4e0'}, 'area-scenario2-abandoned');
  make(g, 'polygon', {points:pts(windForecast).concat(pts(windScenario1).reverse()).join(' '), fill:'url(#hatch)'}, 'area-scenario1-abandoned');
  make(g, 'line', {x1:xf(1), x2:xf(1), y1:yf(windForecast[0]), y2:yf(123), stroke:'#a9c4e0', 'stroke-width':1.5}, 'area-left-edge');
  make(g, 'line', {x1:xf(96), x2:xf(96), y1:yf(windScenario2[95]), y2:yf(123), stroke:'#a9c4e0', 'stroke-width':1.5}, 'area-right-edge');
  indices.forEach(i => {
    const c = i + 1, x = xf(c-0.5), w = xf(c+0.5)-x;
    const v = abandonedScenario2[i];
    if (v > 0) {
      make(g, 'rect', {x:x+0.5, y:yf(v), width:w-1, height:yf(0)-yf(v), fill:'#a9c4e0'}, 'bar-abandoned-scenario2');
    }
  });
  indices.forEach(i => {
    const c = i + 1, x = xf(c-0.5), w = xf(c+0.5)-x;
    const v = abandonedScenario1[i];
    if (v > 0) {
      make(g, 'rect', {x:x, y:yf(v), width:w, height:yf(0)-yf(v), fill:'url(#hatch)', stroke:'#e58f9b', 'stroke-width':3}, 'bar-abandoned-scenario1');
    }
  });
  const series = [
    {values:windForecast, color:'#69a84f', name:'line-wind-forecast', r:5, w:5},
    {values:windScenario1, color:'#e88fa0', name:'line-wind-scenario1', r:4, w:4.5},
    {values:windScenario2, color:'#4b85bd', name:'line-wind-scenario2', r:5, w:5}
  ];
  series.forEach(s => {
    make(g, 'polyline', {points:pts(s.values).join(' '), fill:'none', stroke:s.color, 'stroke-width':s.w}, s.name);
    s.values.forEach((v, i) => {
      make(g, 'circle', {cx:xf(i+1), cy:yf(v), r:s.r, fill:s.color}, s.name + '-point');
    });
  });
  function arrow(x1, y1, x2, y2, name) {
    const a = Math.atan2(y2-y1, x2-x1), L = 20, W = 10;
    const bx = x2 - L*Math.cos(a), by = y2 - L*Math.sin(a);
    make(g, 'line', {x1:x1, y1:y1, x2:bx, y2:by, stroke:'#000', 'stroke-width':3}, name + '-shaft');
    make(g, 'polygon', {points:`${x2},${y2} ${bx - W*Math.sin(a)},${by + W*Math.cos(a)} ${bx + W*Math.sin(a)},${by - W*Math.cos(a)}`, fill:'#000'}, name + '-head');
  }
  arrow(2021, 1533, 1933, 1570, 'arrow-wind-forecast');
  arrow(2931, 1529, 2777, 1617, 'arrow-scenario1-wind');
  arrow(2707, 1670, 2629, 1591, 'arrow-scenario2-wind');
  arrow(2149, 2017, 2149, 2098, 'arrow-scenario1-abandoned');
  arrow(2813.5, 2039, 2813.5, 2133, 'arrow-scenario2-abandoned');
  drawFrame(g, {left:1893,right:3293,top:1361,bottom:2178,xLabelY:2245}, xf);
  drawYTicks(g, 1893, yf, windMajorTicks, windMinorTicks, 1884);
})();
</script>
</body>
</html>
